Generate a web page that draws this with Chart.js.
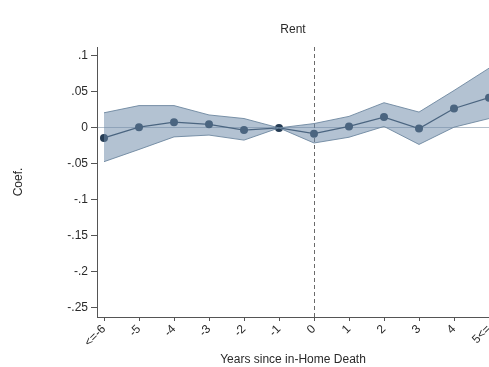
<!DOCTYPE html>
<html>
<head>
<meta charset="utf-8">
<script src="https://cdn.jsdelivr.net/npm/chart.js@4/dist/chart.umd.min.js"></script>
<style>
  html, body { margin: 0; padding: 0; background: #fff; overflow: hidden; }
  #wrap { width: 520px; height: 367px; }
</style>
</head>
<body>
<div id="wrap"><canvas id="chart" width="520" height="367"></canvas></div>
<script>
const years = [-6, -5, -4, -3, -2, -1, 0, 1, 2, 3, 4, 5];
const xTickLabels = ['<=-6', '-5', '-4', '-3', '-2', '-1', '0', '1', '2', '3', '4', '5<='];
const coef = [-0.014, 0.001, 0.008, 0.005, -0.003, 0, -0.008, 0.002, 0.015, -0.001, 0.027, 0.042];
const ciUpper = [0.021, 0.031, 0.031, 0.018, 0.013, 0, 0.006, 0.016, 0.035, 0.022, 0.052, 0.083];
const ciLower = [-0.047, -0.030, -0.0125, -0.010, -0.017, 0, -0.021, -0.013, 0.002, -0.023, 0.001, 0.013];
const yTicks = [0.1, 0.05, 0, -0.05, -0.1, -0.15, -0.2, -0.25];

Chart.defaults.font.family = '"Liberation Sans", Arial, Helvetica, sans-serif';
Chart.defaults.font.size = 12;
Chart.defaults.color = '#2a2a2a';

const pts = (arr) => years.map((x, i) => ({ x: x, y: arr[i] }));

const ctx = document.getElementById('chart').getContext('2d');
new Chart(ctx, {
    type: 'line',
    data: {
        datasets: [
            {
                label: 'upper',
                data: pts(ciUpper),
                borderColor: 'rgba(110,135,160,0.9)',
                borderWidth: 1,
                pointRadius: 0,
                fill: false,
            },
            {
                label: 'lower',
                data: pts(ciLower),
                borderColor: 'rgba(110,135,160,0.9)',
                borderWidth: 1,
                pointRadius: 0,
                backgroundColor: 'rgba(110,138,168,0.52)',
                fill: '-1',
            },
            {
                label: 'Coef.',
                data: pts(coef),
                borderColor: '#263d55',
                borderWidth: 1.3,
                pointRadius: 4,
                pointBackgroundColor: '#263d55',
                pointBorderWidth: 0,
                fill: false,
            },
        ],
    },
    options: {
        responsive: false,
        animation: false,
        devicePixelRatio: 1,
        layout: { padding: { left: 0, right: 31, top: 0, bottom: 0 } },
        plugins: {
            legend: { display: false },
            tooltip: { enabled: false },
            title: {
                display: true,
                text: 'Rent',
                fullSize: false,
                font: { size: 12, weight: 'normal' },
                color: '#2a2a2a',
                padding: { top: 22.8, bottom: 9.8 },
            },
        },
        scales: {
            x: {
                type: 'linear',
                min: -6.2,
                max: 5,
                afterBuildTicks: (scale) => { scale.ticks = years.map(v => ({ value: v })); },
                afterFit: (scale) => { scale.height = 50; },
                ticks: {
                    autoSkip: false,
                    maxRotation: 45,
                    minRotation: 45,
                    padding: 1,
                    color: '#2a2a2a',
                    callback: (v) => xTickLabels[years.indexOf(v)],
                },
                grid: {
                    color: (c) => (c.tick && c.tick.value === 0 ? '#6a6a6a' : 'rgba(0,0,0,0)'),
                    lineWidth: 1,
                    tickLength: 4,
                    tickColor: '#555',
                },
                border: { display: true, color: '#555', width: 1, dash: [4, 3] },
                title: {
                    display: true,
                    text: 'Years since in-Home Death',
                    font: { size: 12 },
                    color: '#2a2a2a',
                    padding: { top: 0, bottom: 0 },
                },
            },
            y: {
                min: -0.263,
                max: 0.1125,
                afterBuildTicks: (scale) => { scale.ticks = yTicks.map(v => ({ value: v })); },
                afterFit: (scale) => { scale.width = 97; },
                ticks: {
                    padding: 3,
                    color: '#2a2a2a',
                    callback: (v) => (v === 0 ? '0' : String(v).replace('0.', '.')),
                },
                grid: {
                    color: (c) => (c.tick && c.tick.value === 0 ? 'rgba(90,115,140,0.45)' : 'rgba(0,0,0,0)'),
                    lineWidth: 1,
                    tickLength: 6,
                    tickColor: '#555',
                },
                border: { display: true, color: '#555', width: 1 },
                title: {
                    display: true,
                    text: 'Coef.',
                    font: { size: 12 },
                    color: '#2a2a2a',
                    padding: { top: 11, bottom: 0 },
                },
            },
        },
    },
});
</script>
</body>
</html>
